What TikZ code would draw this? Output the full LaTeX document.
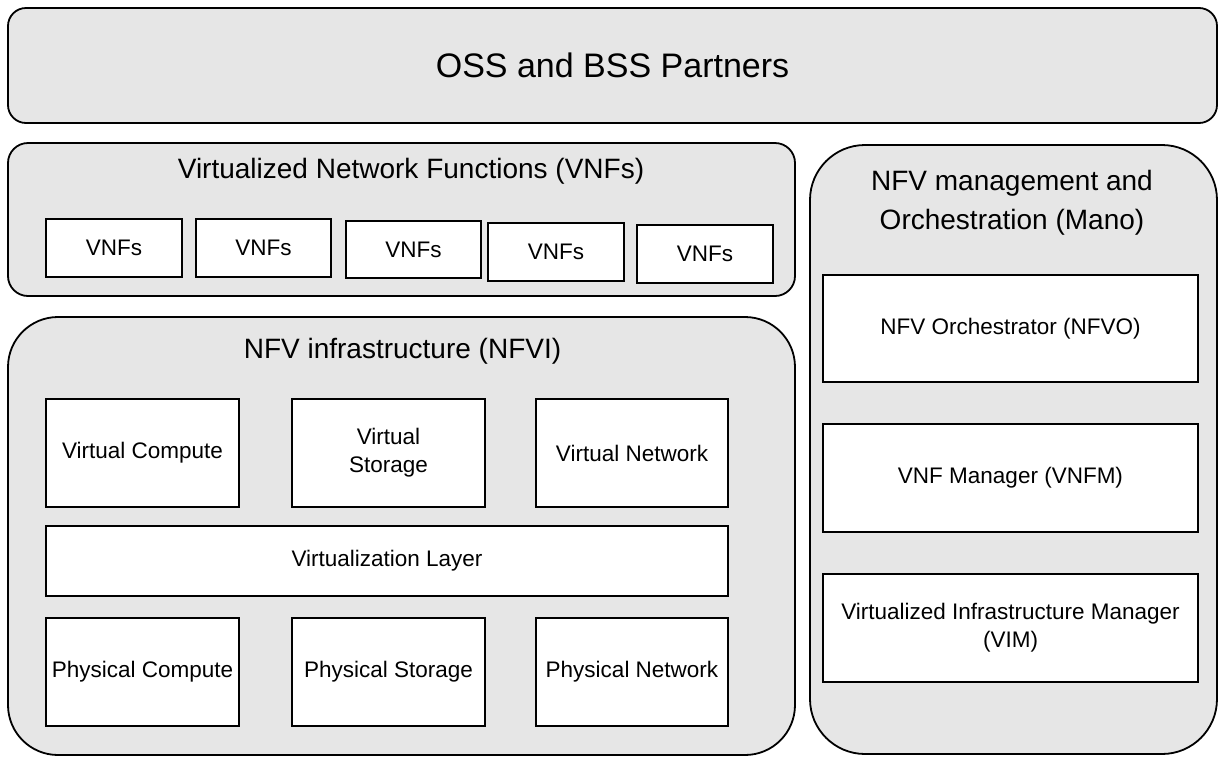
\documentclass[tikz,border=0pt]{standalone}
\usepackage{fontspec}
\setmainfont{Liberation Sans}
\usepackage[usenames,dvipsnames]{xcolor}
\definecolor{panelgray}{HTML}{E6E6E6}

\begin{document}
\begin{tikzpicture}[x=1pt,y=-1pt,
		panel/.style={draw,fill=panelgray,line width=1.8pt,inner sep=0pt,outer sep=0pt},
		unit/.style={draw,fill=white,line width=1.8pt,inner sep=0pt,outer sep=0pt,align=center,font=\fontsize{22.5}{28}\selectfont},
		head/.style={align=center,inner sep=0pt,font=\fontsize{28}{39}\selectfont}]
		\useasboundingbox (0,0) rectangle (1219,756);
		\node[panel,rounded corners=18pt,minimum width=1209pt,minimum height=115pt,font=\fontsize{34}{40}\selectfont] (oss) at (612.5,65.5) {OSS and BSS Partners};
		\node[panel,rounded corners=20pt,minimum width=787pt,minimum height=153pt] (vnfpanel) at (401.5,219.5) {};
		\node[panel,rounded corners=50pt,minimum width=787pt,minimum height=438pt] (nfvipanel) at (401.5,536) {};
		\node[panel,rounded corners=55pt,minimum width=407pt,minimum height=609pt] (manopanel) at (1013.5,449.5) {};
		\node[head] (vnfhead) at (411,171) {Virtualized Network Functions (VNFs)};
		\node[head] (nfvihead) at (402.5,351.5) {NFV infrastructure (NFVI)};
		\node[head] (manohead) at (1012,203) {NFV management and\\Orchestration (Mano)};
		\node[unit,minimum width=136pt,minimum height=58pt] (vnf1) at (114,248) {VNFs};
		\node[unit,minimum width=135pt,minimum height=58pt] (vnf2) at (263.5,248) {VNFs};
		\node[unit,minimum width=135pt,minimum height=57pt] (vnf3) at (413.5,249.5) {VNFs};
		\node[unit,minimum width=136pt,minimum height=58pt] (vnf4) at (556,252) {VNFs};
		\node[unit,minimum width=136pt,minimum height=58pt] (vnf5) at (705,254) {VNFs};
		\node[unit,minimum width=193pt,minimum height=108pt] (vcompute) at (142.5,453) {Virtual Compute};
		\node[unit,minimum width=193pt,minimum height=108pt] (vstorage) at (388.5,453) {Virtual\\Storage};
		\node[unit,minimum width=192pt,minimum height=108pt] (vnetwork) at (632,453) {Virtual Network};
		\node[unit,minimum width=682pt,minimum height=70pt] (vlayer) at (387,561) {Virtualization Layer};
		\node[unit,minimum width=193pt,minimum height=108pt] (pcompute) at (142.5,672) {Physical Compute};
		\node[unit,minimum width=193pt,minimum height=108pt] (pstorage) at (388.5,672) {Physical Storage};
		\node[unit,minimum width=192pt,minimum height=108pt] (pnetwork) at (632,672) {Physical Network};
		\node[unit,minimum width=375pt,minimum height=107pt] (nfvo) at (1010.5,328.5) {NFV Orchestrator (NFVO)};
		\node[unit,minimum width=375pt,minimum height=108pt] (vnfm) at (1010.5,478) {VNF Manager (VNFM)};
		\node[unit,minimum width=375pt,minimum height=108pt] (vim) at (1010.5,628) {Virtualized Infrastructure Manager\\(VIM)};
	\end{tikzpicture}
\end{document}
